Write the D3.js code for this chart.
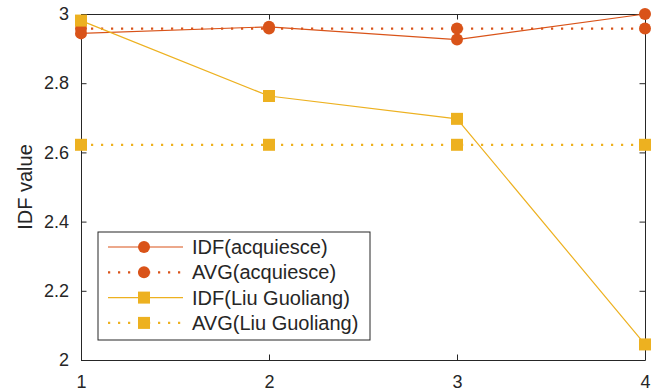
<!DOCTYPE html>
<html>
<head>
<meta charset="utf-8">
<script src="https://cdn.jsdelivr.net/npm/d3@7"></script>
<style>
	body { margin: 0; background: #fff; }
	text { font-family: "Liberation Sans", Arial, Helvetica, sans-serif; fill: #262626; }
</style>
</head>
<body>
<svg width="659" height="392"></svg>
<script>
var xs = [1, 2, 3, 4];
var idfAcquiesce = [2.944, 2.963, 2.926, 3.0];
var avgAcquiesce = [2.958, 2.958, 2.958, 2.958];
var idfLiu = [2.981, 2.763, 2.697, 2.045];
var avgLiu = [2.622, 2.622, 2.622, 2.622];
var xTicks = [1, 2, 3, 4];
var yTicks = [2, 2.2, 2.4, 2.6, 2.8, 3];

var series = [
	{ name: 'IDF(acquiesce)', values: idfAcquiesce, color: '#D95319', dotted: false, marker: 'circle' },
	{ name: 'AVG(acquiesce)', values: avgAcquiesce, color: '#D95319', dotted: true, marker: 'circle' },
	{ name: 'IDF(Liu Guoliang)', values: idfLiu, color: '#EDB120', dotted: false, marker: 'square' },
	{ name: 'AVG(Liu Guoliang)', values: avgLiu, color: '#EDB120', dotted: true, marker: 'square' }
];

var svg = d3.select('svg');
var pLeft = 81, pRight = 645, pTop = 14, pBottom = 360;

var x = d3.scaleLinear().domain([1, 4]).range([pLeft, pRight]);
var y = d3.scaleLinear().domain([2, 3]).range([pBottom, pTop]);

// axes (inward ticks, box on)
var axisColor = '#262626';
function styleAxis(g) {
	g.selectAll('path').attr('stroke', axisColor).attr('stroke-width', 1);
	g.selectAll('line').attr('stroke', axisColor);
	g.selectAll('text').style('font-size', '18px').style('font-family', '"Liberation Sans", Arial, sans-serif').attr('fill', axisColor);
}
svg.append('g').attr('transform', 'translate(0,' + pBottom + ')')
	.call(d3.axisBottom(x).tickValues(xTicks).tickFormat(d3.format('d')).tickSizeInner(-5.5).tickSizeOuter(0).tickPadding(15))
	.call(styleAxis);
svg.append('g').attr('transform', 'translate(0,' + pTop + ')')
	.call(d3.axisTop(x).tickValues(xTicks).tickFormat('').tickSizeInner(-5.5).tickSizeOuter(0))
	.call(styleAxis);
svg.append('g').attr('transform', 'translate(' + pLeft + ',0)')
	.call(d3.axisLeft(y).tickValues(yTicks).tickFormat(function(d) { return d3.format('~g')(d); }).tickSizeInner(-5.5).tickSizeOuter(0).tickPadding(12))
	.call(styleAxis);
svg.append('g').attr('transform', 'translate(' + pRight + ',0)')
	.call(d3.axisRight(y).tickValues(yTicks).tickFormat('').tickSizeInner(-5.5).tickSizeOuter(0))
	.call(styleAxis);

svg.append('text')
	.attr('transform', 'translate(32,' + ((pTop + pBottom) / 2) + ') rotate(-90)')
	.attr('text-anchor', 'middle')
	.style('font-size', '20px')
	.text('IDF value');

var line = d3.line()
	.x(function(d, i) { return x(xs[i]); })
	.y(function(d) { return y(d); });

function drawMarker(g, type, cx, cy, color) {
	if (type === 'circle') {
		g.append('circle').attr('cx', cx).attr('cy', cy).attr('r', 6).attr('fill', color);
	} else {
		g.append('rect').attr('x', cx - 6).attr('y', cy - 6).attr('width', 12).attr('height', 12).attr('fill', color);
	}
}

series.forEach(function(s) {
	var g = svg.append('g');
	g.append('path')
		.datum(s.values)
		.attr('d', line)
		.attr('fill', 'none')
		.attr('stroke', s.color)
		.attr('stroke-width', s.dotted ? 2.2 : 1.2)
		.attr('stroke-dasharray', s.dotted ? '2.2,7.8' : null);
	s.values.forEach(function(v, i) {
		drawMarker(g, s.marker, x(xs[i]), y(v), s.color);
	});
});

// legend
var lg = svg.append('g').attr('transform', 'translate(98,232)');
lg.append('rect').attr('width', 272).attr('height', 108)
	.attr('fill', '#fff').attr('stroke', axisColor).attr('stroke-width', 1);
series.forEach(function(s, i) {
	var cy = 15 + i * 25.3;
	lg.append('line').attr('x1', 10).attr('x2', 85).attr('y1', cy).attr('y2', cy)
		.attr('stroke', s.color)
		.attr('stroke-width', s.dotted ? 2.2 : 1.2)
		.attr('stroke-dasharray', s.dotted ? '2.2,7.8' : null);
	drawMarker(lg, s.marker, 46, cy, s.color);
	lg.append('text').attr('x', 94).attr('y', cy + 7).style('font-size', '20px').text(s.name);
});
</script>
</body>
</html>
